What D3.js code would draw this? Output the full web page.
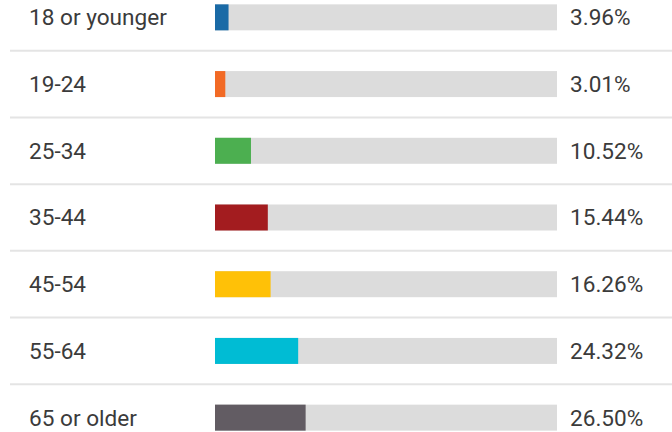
<!DOCTYPE html>
<html>
<meta charset="utf-8">
<style type="text/css">
	body { margin: 0; background: #fff; }
	svg { display: block; }
	.label, .value {
		font-family: Roboto, sans-serif;
		font-size: 22.6px;
		fill: #3b3b3b;
	}
	.sep {
		stroke: #e4e4e4;
		stroke-width: 2px;
	}
	.track { fill: #dcdcdc; }
</style>
<body>
<svg width="672" height="432"></svg>
<script src="https://d3js.org/d3.v7.min.js"></script>
<script>
	var groups = ['18 or younger', '19-24', '25-34', '35-44', '45-54', '55-64', '65 or older'];
	var shares = [3.96, 3.01, 10.52, 15.44, 16.26, 24.32, 26.50];
	var colors = ['#1a6aa6', '#f26a25', '#4caf50', '#a31c1f', '#ffc107', '#00bcd4', '#625c63'];

	var svg = d3.select('svg'),
			width = +svg.attr('width'),
			barH = 26;

	var y = d3.scaleBand()
			.domain(groups)
			.range([-16, 451]);

	var x = d3.scaleLinear()
			.domain([0, 100])
			.range([215, 557]);

	var off = (y.step() - barH) / 2;

	var row = svg.selectAll('.row')
			.data(groups)
		.enter().append('g')
			.attr('class', 'row')
			.attr('transform', (d) => 'translate(0,' + y(d) + ')');

	row.filter((d, i) => i < groups.length - 1)
		.append('line')
			.attr('class', 'sep')
			.attr('x1', 10)
			.attr('x2', width)
			.attr('y1', y.step())
			.attr('y2', y.step());

	row.append('rect')
		.attr('class', 'track')
		.attr('x', x(0))
		.attr('y', off)
		.attr('width', x(100) - x(0))
		.attr('height', barH);

	row.append('rect')
		.attr('x', x(0))
		.attr('y', off)
		.attr('width', (d, i) => x(shares[i]) - x(0))
		.attr('height', barH)
		.attr('fill', (d, i) => colors[i]);

	row.append('text')
		.attr('class', 'label')
		.attr('x', 29)
		.attr('y', off + barH / 2)
		.attr('dy', '0.35em')
		.text((d) => d);

	row.append('text')
		.attr('class', 'value')
		.attr('x', 570)
		.attr('y', off + barH / 2)
		.attr('dy', '0.35em')
		.text((d, i) => shares[i].toFixed(2) + '%');
</script>
</body>
</html>
